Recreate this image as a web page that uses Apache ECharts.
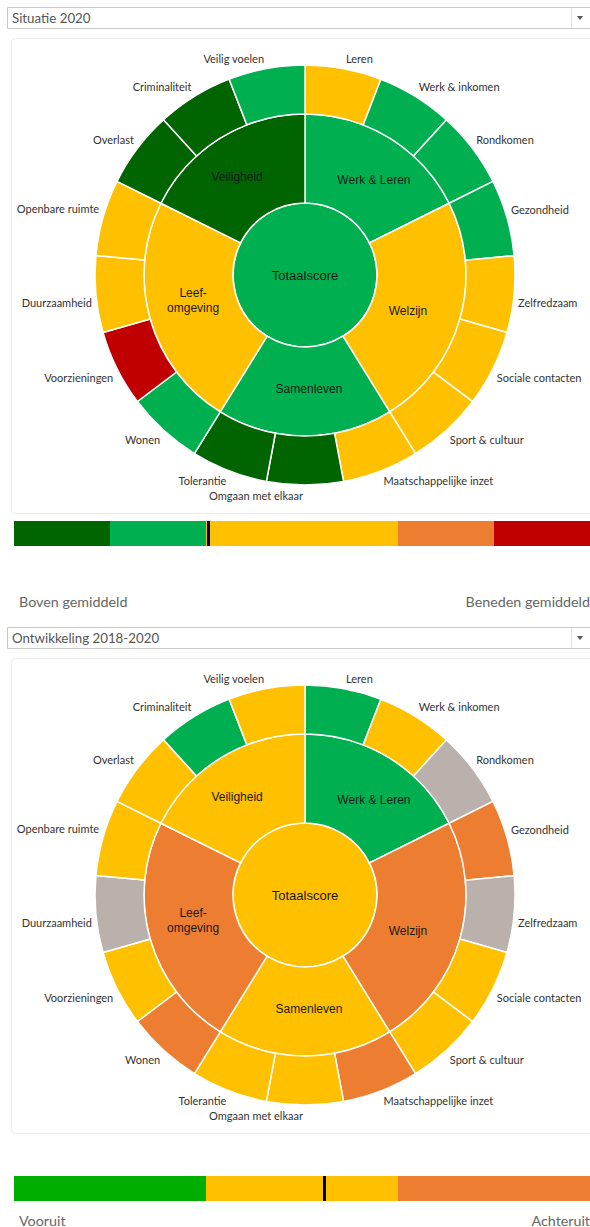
<!DOCTYPE html>
<html>
<head>
<meta charset="utf-8">
<script src="https://cdn.jsdelivr.net/npm/echarts/dist/echarts.min.js"></script>
<style>
  html, body { margin: 0; padding: 0; background: #fff; }
  #c { width: 590px; height: 1227px; }
</style>
</head>
<body>
<div id="c"></div>
<script>
// ---------------- DATA ----------------
const indicatorNames = ['Leren', 'Werk & inkomen', 'Rondkomen', 'Gezondheid', 'Zelfredzaam',
  'Sociale contacten', 'Sport & cultuur', 'Maatschappelijke inzet', 'Omgaan met elkaar',
  'Tolerantie', 'Wonen', 'Voorzieningen', 'Duurzaamheid', 'Openbare ruimte', 'Overlast',
  'Criminaliteit', 'Veilig voelen'];
const themeNames = ['Werk & Leren', 'Welzijn', 'Samenleven', 'Leef-\nomgeving', 'Veiligheid'];
const themeIndicatorCounts = [3, 4, 3, 4, 3];
const totalName = 'Totaalscore';

const situatieTitle = 'Situatie 2020';
const situatieTotal = 'boven';
const situatieThemes = ['boven', 'gemiddeld', 'boven', 'gemiddeld', 'ruimBoven'];
const situatieIndicators = ['gemiddeld', 'boven', 'boven', 'boven', 'gemiddeld', 'gemiddeld',
  'gemiddeld', 'gemiddeld', 'ruimBoven', 'ruimBoven', 'boven', 'ruimBeneden', 'gemiddeld',
  'gemiddeld', 'ruimBoven', 'ruimBoven', 'boven'];

const ontwikkelingTitle = 'Ontwikkeling 2018-2020';
const ontwikkelingTotal = 'gelijk';
const ontwikkelingThemes = ['vooruit', 'achteruit', 'gelijk', 'achteruit', 'gelijk'];
const ontwikkelingIndicators = ['vooruit', 'gelijk', 'onbekend', 'achteruit', 'onbekend', 'gelijk',
  'gelijk', 'achteruit', 'gelijk', 'gelijk', 'achteruit', 'gelijk', 'onbekend', 'gelijk',
  'gelijk', 'vooruit', 'gelijk'];

const legend1Classes = ['ruimBoven', 'boven', 'gemiddeld', 'beneden', 'ruimBeneden'];
const legend1Widths = [1, 1, 2, 1, 1];
const legend1Marker = 2.02;
const legend1Ends = ['Boven gemiddeld', 'Beneden gemiddeld'];

const legend2Classes = ['vooruit', 'gelijk', 'achteruit'];
const legend2Widths = [2, 2, 2];
const legend2Marker = 3.23;
const legend2Ends = ['Vooruit', 'Achteruit'];

// ---------------- STYLE ----------------
const palette = {
  ruimBoven: '#006400', boven: '#00B050', gemiddeld: '#FFC000', beneden: '#ED7D31',
  ruimBeneden: '#C00000', vooruit: '#00B050', gelijk: '#FFC000', achteruit: '#ED7D31',
  onbekend: '#BAB0AC'
};
const legendPalette = Object.assign({}, palette, { vooruit: '#00AE00' });
// small label nudges for the theme ring (style only)
const themeLabelNudges = [[6, 7], [-12, 3], [4, -6], [3, -7], [-5, 4]];

const CX = 305;
const R_IN = 72, R_MID = 161, R_OUT = 210;
const uiFont = 'Lato, "Open Sans", sans-serif';
const arialFont = '"Liberation Sans", Arial, sans-serif';

function sunburstSeries(cy, total, themes, indicators) {
  const common = {
    type: 'pie', center: [CX, cy], startAngle: 89.99, clockwise: true,
    silent: true, animation: false, avoidLabelOverlap: false,
    emphasis: { disabled: true },
    itemStyle: { borderColor: '#ffffff', borderWidth: 1.5 }
  };
  return [
    Object.assign({}, common, {
      radius: [0, R_IN],
      label: { show: true, position: 'center', fontFamily: arialFont,
        fontSize: 13, color: '#1a1a1a' },
      labelLine: { show: false },
      data: [{ name: totalName, value: 1, itemStyle: { color: palette[total] } }]
    }),
    Object.assign({}, common, {
      radius: [R_IN, R_MID],
      label: { show: true, position: 'inside', fontFamily: arialFont,
        fontSize: 12, lineHeight: 15, color: '#1a1a1a' },
      labelLine: { show: false },
      labelLayout: function (p) {
        const n = themeLabelNudges[p.dataIndex] || [0, 0];
        return { dx: n[0], dy: n[1] };
      },
      data: themeNames.map((n, i) => ({ name: n, value: themeIndicatorCounts[i],
        itemStyle: { color: palette[themes[i]] } }))
    }),
    Object.assign({}, common, {
      radius: [R_MID, R_OUT],
      label: { show: true, position: 'outside', fontFamily: uiFont, fontSize: 11,
        color: '#333333', distanceToLabelLine: 2 },
      labelLine: { show: false, length: 2, length2: 0 },
      labelLayout: function (p) {
        const my = p.labelRect.y + p.labelRect.height / 2;
        return { dy: my > cy ? 8 : -8 };
      },
      data: indicatorNames.map((n, i) => ({ name: n, value: 1,
        itemStyle: { color: palette[indicators[i]] } }))
    })
  ];
}

function legendSeries(idx, classes, widths, marker) {
  return classes.map((c, i) => {
    const s = {
      type: 'bar', xAxisIndex: idx, yAxisIndex: idx, stack: 'legend' + idx,
      barWidth: '100%', silent: true, animation: false,
      data: [widths[i]], itemStyle: { color: legendPalette[c] }
    };
    if (i === classes.length - 1) {
      s.markLine = {
        symbol: 'none', silent: true, animation: false, label: { show: false },
        lineStyle: { color: '#000000', width: 3, type: 'solid', opacity: 1 },
        data: [{ xAxis: marker }]
      };
    }
    return s;
  });
}

function dropdown(y, title) {
  return [
    { type: 'rect', shape: { x: 7.5, y: y + 0.5, width: 600, height: 21 },
      style: { fill: '#ffffff', stroke: '#c9c9c9', lineWidth: 1 }, z: 1 },
    { type: 'line', shape: { x1: 571.5, y1: y + 1, x2: 571.5, y2: y + 21 },
      style: { stroke: '#e4e4e4', lineWidth: 1 }, z: 2 },
    { type: 'polygon', shape: { points: [[577, y + 9], [583, y + 9], [580, y + 13]] },
      style: { fill: '#555555' }, z: 2 },
    { type: 'text', x: 12, y: y + 11, z: 2,
      style: { text: title, font: '13.3px ' + uiFont, fill: '#555555',
        align: 'left', verticalAlign: 'middle' } }
  ];
}

function panel(y, h) {
  return { type: 'rect', shape: { x: 11.5, y: y + 0.5, width: 600, height: h, r: 4 },
    style: { fill: 'none', stroke: '#ececec', lineWidth: 1 }, z: 0 };
}

function endLabels(y, ends) {
  return [
    { type: 'text', x: 19, y: y, z: 2,
      style: { text: ends[0], font: '14.3px ' + uiFont, fill: '#666666', align: 'left', verticalAlign: 'middle' } },
    { type: 'text', x: 590, y: y, z: 2,
      style: { text: ends[1], font: '14.3px ' + uiFont, fill: '#666666', align: 'right', verticalAlign: 'middle' } }
  ];
}

const chart = echarts.init(document.getElementById('c'), null, { renderer: 'svg', width: 590, height: 1227 });

const option = {
  backgroundColor: '#ffffff',
  animation: false,
  grid: [
    { left: 14, top: 521, width: 582, height: 25 },
    { left: 14, top: 1176, width: 582, height: 25 }
  ],
  xAxis: [
    { gridIndex: 0, type: 'value', min: 0, max: 6, show: false },
    { gridIndex: 1, type: 'value', min: 0, max: 6, show: false }
  ],
  yAxis: [
    { gridIndex: 0, type: 'category', data: ['schaal'], show: false },
    { gridIndex: 1, type: 'category', data: ['schaal'], show: false }
  ],
  graphic: [].concat(
    dropdown(7, situatieTitle),
    [panel(38, 475)],
    endLabels(601, legend1Ends),
    dropdown(627, ontwikkelingTitle),
    [panel(658, 475)],
    endLabels(1220, legend2Ends)
  ),
  series: [].concat(
    sunburstSeries(275, situatieTotal, situatieThemes, situatieIndicators),
    sunburstSeries(895, ontwikkelingTotal, ontwikkelingThemes, ontwikkelingIndicators),
    legendSeries(0, legend1Classes, legend1Widths, legend1Marker),
    legendSeries(1, legend2Classes, legend2Widths, legend2Marker)
  )
};
chart.setOption(option);
</script>
</body>
</html>
